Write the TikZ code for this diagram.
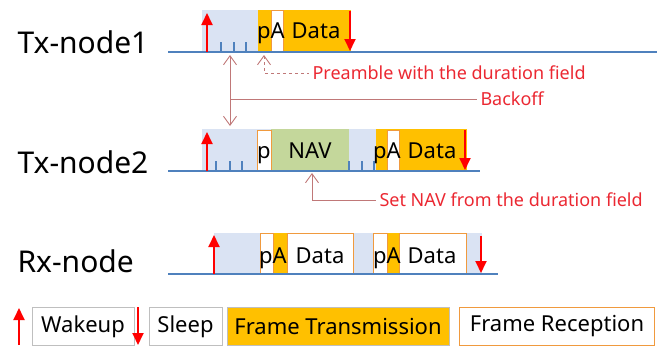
\documentclass[tikz,border=0pt]{standalone}
\usepackage{fontspec}
\setmainfont{Noto Sans}
\usetikzlibrary{arrows.meta}
\definecolor{wakebg}{HTML}{DAE3F3}
\definecolor{txorange}{HTML}{FFC000}
\definecolor{rxedge}{HTML}{F09A3E}
\definecolor{navgreen}{HTML}{C4D79B}
\definecolor{timeline}{HTML}{4F81BD}
\definecolor{annline}{RGB}{192,120,120}
\definecolor{anntext}{RGB}{235,40,50}
\begin{document}
\begin{tikzpicture}[x=1pt,y=-1pt,
  rowlabel/.style={anchor=base west,font=\fontsize{30}{30}\selectfont},
  boxtext/.style={anchor=base,font=\fontsize{22}{22}\selectfont,inner sep=0pt},
  notetext/.style={anchor=west,text=anntext,font=\fontsize{18}{18}\selectfont},
  legtext/.style={font=\fontsize{22}{22}\selectfont,minimum height=38pt,inner sep=0pt},
  line/.style={timeline,line width=1.5pt},
  tick/.style={timeline,line width=1.2pt},
  up/.style={red,line width=1.8pt,-{Triangle[width=11pt,length=12pt]}},
  barb/.tip={Straight Barb[width=13pt,length=9pt]},
  annot/.style={annline,line width=0.9pt}]
\useasboundingbox (0,0) rectangle (657,346);
%%% Tx-node1
\node[rowlabel] (tx1) at (14,53) {Tx-node1};
\fill[wakebg] (202,10) rectangle (258,52);
\fill[txorange] (258,10) rectangle (351,52);
\draw[rxedge,fill=white,line width=1pt] (271,10) rectangle (283,52);
\draw[line] (168,52) -- (657,52);
\foreach \x in {221,234,246} \draw[tick] (\x,52) -- (\x,42);
\draw[up] (207,52) -- (207,13);
\draw[up] (350,11) -- (350,51);
\node[boxtext] (pa1) at (271,38) {pA};
\node[boxtext] (data1) at (316,38) {Data};
%%% Tx-node2
\node[rowlabel] (tx2) at (14,173) {Tx-node2};
\fill[wakebg] (202,129) rectangle (467,171);
\fill[navgreen] (271,129) rectangle (349,171);
\fill[txorange] (376,129) rectangle (467,171);
\draw[rxedge,fill=white,line width=1pt] (257,130) rectangle (271,171);
\draw[rxedge,fill=white,line width=1pt] (387,130) rectangle (399,171);
\draw[line] (168,171) -- (480,171);
\foreach \x in {216,230,242,349,362,374} \draw[tick] (\x,171) -- (\x,161);
\draw[up] (207,171) -- (207,132);
\draw[up] (465,130) -- (465,170);
\node[boxtext] (p2) at (264,158) {p};
\node[boxtext] (nav) at (310,158) {NAV};
\node[boxtext] (pa2) at (387,158) {pA};
\node[boxtext] (data2) at (432,158) {Data};
%%% Rx-node
\node[rowlabel] (rx) at (14,272) {Rx-node};
\fill[wakebg] (214,233) rectangle (482,274);
\fill[txorange] (273,233) rectangle (287,274);
\fill[txorange] (387,233) rectangle (399,274);
\draw[rxedge,fill=white,line width=1pt] (260,233) rectangle (273,274);
\draw[rxedge,fill=white,line width=1pt] (287,233) rectangle (353,274);
\draw[rxedge,fill=white,line width=1pt] (373,233) rectangle (387,274);
\draw[rxedge,fill=white,line width=1pt] (399,233) rectangle (466,274);
\draw[line] (168,274) -- (498,274);
\draw[up] (214,274) -- (214,235);
\draw[up] (481,236) -- (481,273);
\node[boxtext] (pa3) at (273,263) {pA};
\node[boxtext] (data3) at (320,263) {Data};
\node[boxtext] (pa4) at (387,263) {pA};
\node[boxtext] (data4) at (432,263) {Data};
%%% notes
\coordinate (pre) at (264,55);
\coordinate (navmid) at (312,173);
\coordinate (botop) at (230,55);
\coordinate (bobot) at (230,126);
\node[notetext] (prenote) at (309,73) {Preamble with the duration field};
\node[notetext] (bonote) at (477,99) {Backoff};
\node[notetext] (navnote) at (376,200) {Set NAV from the duration field};
\draw[annot,dashed,barb-] (pre) |- (prenote.west);
\draw[annot,barb-barb] (botop) -- (bobot);
\draw[annot] (botop |- bonote.west) -- (bonote.west);
\draw[annot,barb-] (navmid) |- (navnote.west);
%%% legend
\draw[up] (19,345) -- (19,308);
\node[draw=black!25,fill=white,minimum width=102pt,legtext] (wake) at (83,326.5) {Wakeup};
\draw[up] (138,307) -- (138,345);
\node[draw=black!25,fill=white,minimum width=73pt,legtext] (sleep) at (185.5,326.5) {Sleep};
\node[draw=black!25,fill=txorange,minimum width=222pt,legtext] (ftx) at (338,326.5) {Frame Transmission};
\node[draw=rxedge,line width=1.5pt,fill=white,minimum height=37pt,minimum width=195pt,legtext] (frx) at (557,326.5) {Frame Reception};
\end{tikzpicture}
\end{document}
